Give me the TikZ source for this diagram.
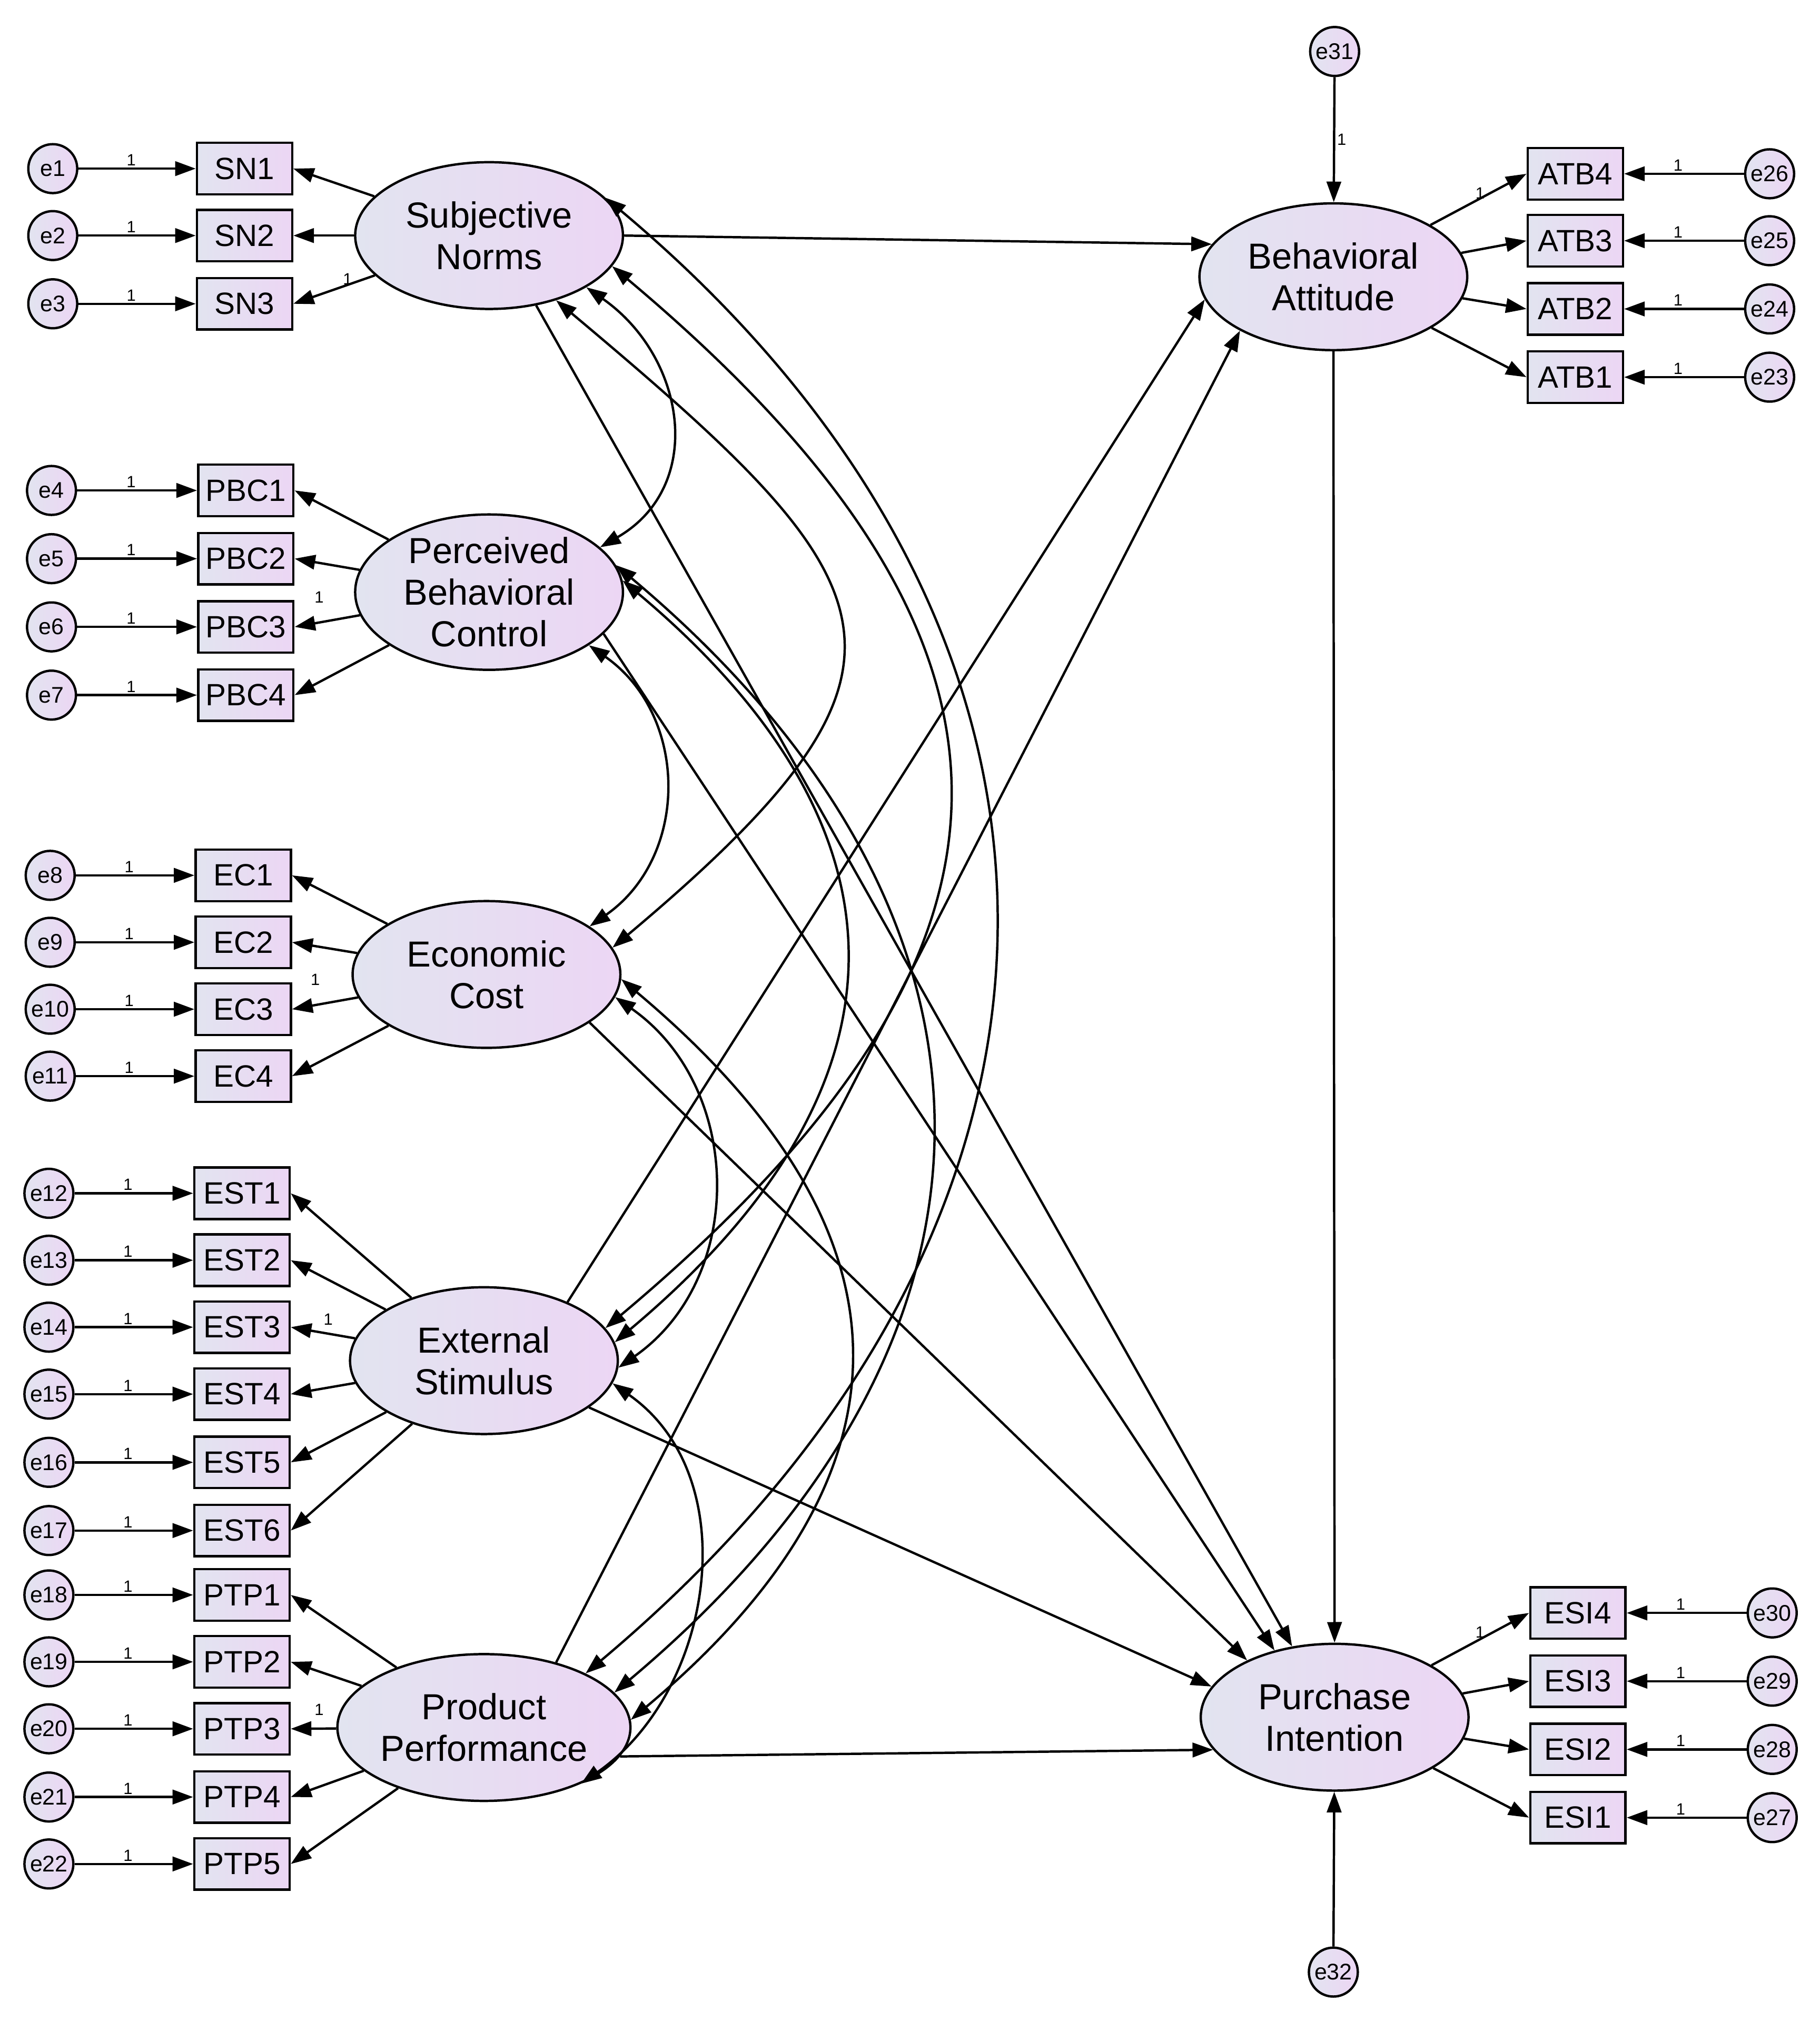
\documentclass[tikz,border=0pt]{standalone}
\usepackage{fontspec}
\setmainfont{Liberation Sans}
\usetikzlibrary{shapes.geometric,arrows.meta}
\definecolor{shA}{RGB}{226,228,240}
\definecolor{shB}{RGB}{236,214,244}
\begin{document}
\begin{tikzpicture}[x=0.025cm,y=-0.025cm,
  line width=1.3pt,
  arr/.style={-{Triangle[length=0.4cm,width=0.28cm]}},
  cov/.style={{Triangle[length=0.4cm,width=0.28cm]}-{Triangle[length=0.4cm,width=0.28cm]}},
  lat/.style={ellipse,draw,line width=1.3pt,left color=shA,right color=shB,minimum width=5.2cm,minimum height=2.85cm,align=center,font=\fontsize{20}{23}\selectfont,inner sep=0pt},
  ind/.style={rectangle,draw,line width=1.3pt,left color=shA,right color=shB,minimum width=1.85cm,minimum height=1.0cm,inner sep=0pt,font=\fontsize{17}{19}\selectfont},
  err/.style={circle,draw,line width=1.3pt,left color=shA,right color=shB,minimum size=0.95cm,inner sep=0pt,font=\fontsize{12.5}{14}\selectfont},
  one/.style={font=\fontsize{9}{10}\selectfont,inner sep=1pt}]
\useasboundingbox (0,0) rectangle (1414,1577);
% latent
\node[lat] (SN) at (380,183) {Subjective\\Norms};
\node[lat] (PBC) at (380,460) {Perceived\\Behavioral\\Control};
\node[lat] (EC) at (378,757) {Economic\\Cost};
\node[lat] (ES) at (376,1057) {External\\Stimulus};
\node[lat] (PP) at (376,1342) {Product\\Performance};
\node[lat] (BA) at (1036,215) {Behavioral\\Attitude};
\node[lat] (PI) at (1037,1334) {Purchase\\Intention};
% indicators left
\foreach \n/\y/\e/\L/\xi/\xe in {
  SN1/131/e1/SN/190/41, SN2/183/e2/SN/190/41, SN3/236/e3/SN/190/41,
  PBC1/381/e4/PBC/191/40, PBC2/434/e5/PBC/191/40, PBC3/487/e6/PBC/191/40, PBC4/540/e7/PBC/191/40,
  EC1/680/e8/EC/189/39, EC2/732/e9/EC/189/39, EC3/784/e10/EC/189/39, EC4/836/e11/EC/189/39,
  EST1/927/e12/ES/188/38, EST2/979/e13/ES/188/38, EST3/1031/e14/ES/188/38, EST4/1083/e15/ES/188/38, EST5/1136/e16/ES/188/38, EST6/1189/e17/ES/188/38,
  PTP1/1239/e18/PP/188/38, PTP2/1291/e19/PP/188/38, PTP3/1343/e20/PP/188/38, PTP4/1396/e21/PP/188/38, PTP5/1448/e22/PP/188/38}{
  \node[ind] (\n) at (\xi,\y) {\n};
  \node[err] (\e) at (\xe,\y) {\e};
  \draw[arr] (\e) -- node[one,above,pos=0.45] {1} (\n);
  \draw[arr] (\L) -- (\n.east);
}
% indicators right
\foreach \n/\y/\e in {ATB4/135/e26, ATB3/187/e25, ATB2/240/e24, ATB1/293/e23}{
  \node[ind] (\n) at (1224,\y) {\n};
  \node[err] (\e) at (1375,\y) {\e};
  \draw[arr] (\e) -- node[one,above,pos=0.55] {1} (\n);
  \draw[arr] (BA) -- (\n.west);
}
\foreach \n/\y/\e in {ESI4/1253/e30, ESI3/1306/e29, ESI2/1359/e28, ESI1/1412/e27}{
  \node[ind] (\n) at (1226,\y) {\n};
  \node[err] (\e) at (1377,\y) {\e};
  \draw[arr] (\e) -- node[one,above,pos=0.55] {1} (\n);
  \draw[arr] (PI) -- (\n.west);
}
% loading labels
\node[one] (l1) at (270,217) {1};
\node[one] (l2) at (248,464) {1};
\node[one] (l3) at (245,761) {1};
\node[one] (l4) at (255,1025) {1};
\node[one] (l5) at (248,1328) {1};
\node[one] (l6) at (1150,150) {1};
\node[one] (l7) at (1150,1268) {1};
% disturbances
\node[err] (e31) at (1037,40) {e31};
\node[err] (e32) at (1036,1532) {e32};
\draw[arr] (e31) -- node[one,right,pos=0.5] {1} (BA);
\draw[arr] (e32) -- (PI);
% structural
\draw[arr] (SN.east) -- (BA.165);
\draw[arr] (SN.-56) -- (PI.121);
\draw[arr] (PBC.-20) -- (PI.132);
\draw[arr] (EC.-25) -- (PI.147);
\draw[arr] (ES.-24) -- (PI.166);
\draw[arr] (PP.-12) -- (PI.195);
\draw[arr] (ES.35) -- (BA.190);
\draw[arr] (PP.42) -- (BA.210);
\draw[arr] (BA) -- (PI);
% covariances
\draw[cov] (SN.-28) to[out=-35,in=30,looseness=1.2] (PBC.22);
\draw[cov] (SN.-44) to[out=-40,in=40,looseness=1.75] (EC.12);
\draw[cov] (SN.-14) to[out=-40,in=40,looseness=1.42] (ES.15);
\draw[cov] (SN.18) to[out=-40,in=40,looseness=1.2] (PP.28);
\draw[cov] (PBC.-28) to[out=-35,in=35,looseness=1.11] (EC.25);
\draw[cov] (PBC.5) to[out=-40,in=40,looseness=1.32] (ES.8);
\draw[cov] (PBC.12) to[out=-40,in=40,looseness=1.25] (PP.15);
\draw[cov] (EC.-10) to[out=-35,in=35,looseness=1.08] (ES.-3);
\draw[cov] (EC.-2) to[out=-40,in=40,looseness=1.34] (PP.3);
\draw[cov] (ES.-10) to[out=-35,in=35,looseness=1.04] (PP.-30);
\end{tikzpicture}
\end{document}
